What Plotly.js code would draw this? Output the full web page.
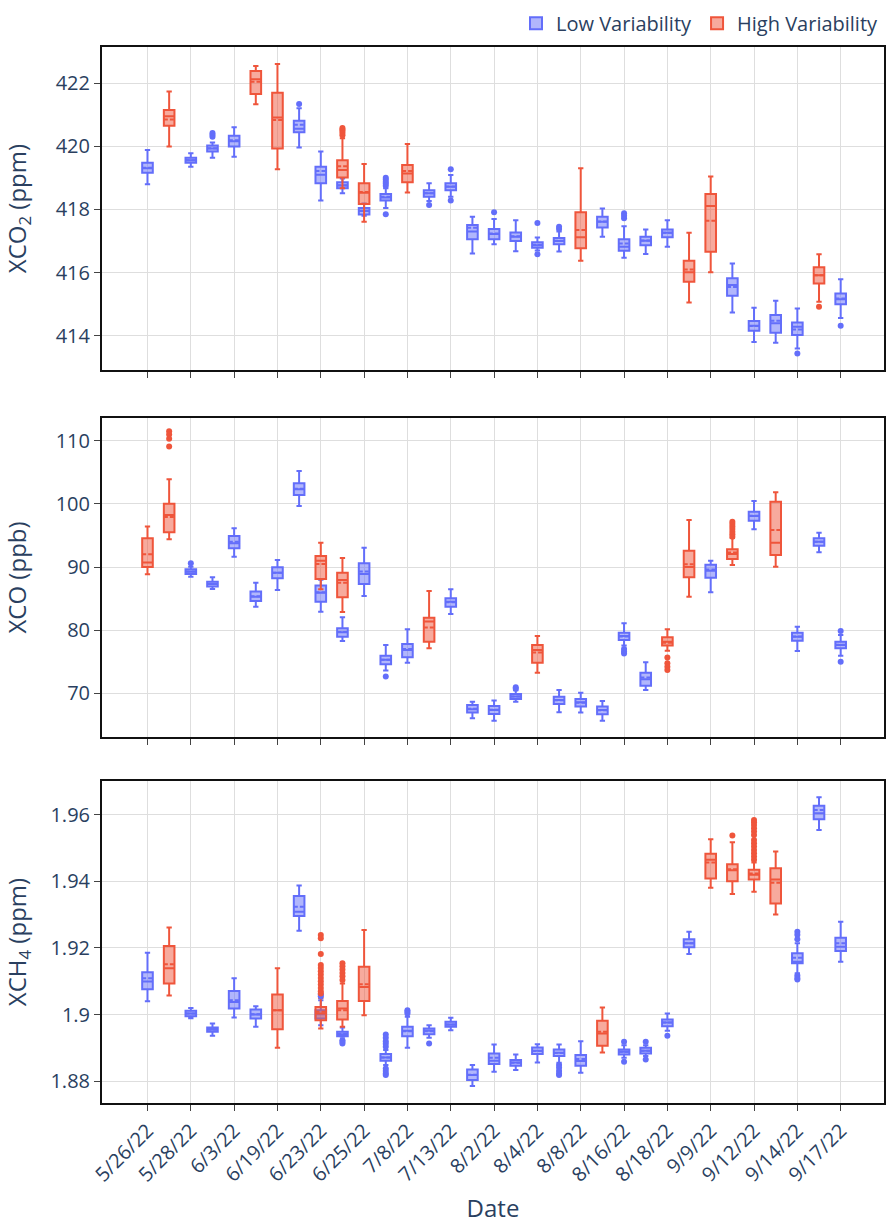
<!DOCTYPE html>
<html><head><meta charset="utf-8">
<script src="https://cdn.plot.ly/plotly-3.0.1.min.js"></script>
<style>html,body{margin:0;padding:0;background:#fff}#chart{width:886px;height:1224px}</style>
</head><body><div id="chart"></div>
<script>
const DATES = ['5/26/22','5/27/22','5/28/22','6/1/22','6/3/22','6/18/22','6/19/22','6/22/22','6/23/22','6/24/22','6/25/22','7/7/22','7/8/22','7/12/22','7/13/22','8/1/22','8/2/22','8/3/22','8/4/22','8/5/22','8/8/22','8/15/22','8/16/22','8/17/22','8/18/22','9/8/22','9/9/22','9/11/22','9/12/22','9/13/22','9/14/22','9/16/22','9/17/22'];
const TICK_LABELS = ['5/26/22','5/28/22','6/3/22','6/19/22','6/23/22','6/25/22','7/8/22','7/13/22','8/2/22','8/4/22','8/8/22','8/16/22','8/18/22','9/9/22','9/12/22','9/14/22','9/17/22'];

// rows: [date, lowerfence, q1, median, q3, upperfence, mean]
const XCO2_LOW = [
 ['5/26/22',418.80,419.16,419.30,419.48,419.88,419.32],
 ['5/28/22',419.35,419.48,419.56,419.64,419.78,419.56],
 ['6/1/22',419.64,419.83,419.93,420.02,420.12,419.94],
 ['6/3/22',419.67,419.99,420.16,420.33,420.60,420.19],
 ['6/22/22',419.96,420.44,420.55,420.81,421.20,420.68],
 ['6/23/22',418.28,418.83,419.10,419.35,419.83,419.22],
 ['6/24/22',418.51,418.67,418.76,418.86,418.98,418.77],
 ['6/25/22',417.80,417.84,417.95,418.05,418.19,417.96],
 ['7/7/22',418.05,418.28,418.38,418.49,418.67,418.40],
 ['7/12/22',418.27,418.40,418.51,418.61,418.83,418.51],
 ['7/13/22',418.40,418.61,418.72,418.83,419.09,418.73],
 ['8/1/22',416.61,417.06,417.30,417.51,417.77,417.42],
 ['8/2/22',416.90,417.06,417.22,417.38,417.70,417.24],
 ['8/3/22',416.68,417.00,417.14,417.27,417.66,417.15],
 ['8/4/22',416.70,416.79,416.87,416.96,417.11,416.88],
 ['8/5/22',416.67,416.90,417.00,417.10,417.30,417.01],
 ['8/15/22',417.14,417.43,417.61,417.77,418.03,417.62],
 ['8/16/22',416.47,416.69,416.82,417.06,417.47,416.92],
 ['8/17/22',416.59,416.87,417.01,417.14,417.37,417.02],
 ['8/18/22',416.82,417.12,417.26,417.37,417.66,417.26],
 ['9/11/22',414.74,415.27,415.61,415.82,416.29,415.55],
 ['9/12/22',413.81,414.16,414.32,414.47,414.89,414.31],
 ['9/13/22',413.78,414.10,414.40,414.66,415.11,414.48],
 ['9/14/22',413.60,414.03,414.29,414.42,414.87,414.20],
 ['9/17/22',414.57,415.00,415.16,415.34,415.79,415.18]
];
const XCO2_HIGH = [
 ['5/27/22',419.99,420.65,420.95,421.15,421.73,420.85],
 ['6/18/22',421.33,421.65,422.12,422.38,422.54,422.04],
 ['6/19/22',419.27,419.93,420.91,421.69,422.60,420.83],
 ['6/24/22',418.67,419.01,419.25,419.56,420.25,419.37],
 ['6/25/22',417.61,418.17,418.53,418.83,419.44,418.55],
 ['7/8/22',418.54,418.86,419.14,419.41,420.07,419.22],
 ['8/8/22',416.38,416.77,417.12,417.91,419.30,417.35],
 ['9/8/22',415.06,415.71,416.01,416.38,417.26,416.10],
 ['9/9/22',416.01,416.66,418.11,418.49,419.04,417.64],
 ['9/16/22',415.08,415.66,415.92,416.17,416.58,415.92]
];
const XCO2_LOW_OUT = [
 ['6/1/22',420.30],['6/1/22',420.36],['6/1/22',420.42],
 ['6/22/22',421.34],
 ['7/7/22',418.75],['7/7/22',418.82],['7/7/22',418.88],['7/7/22',418.95],['7/7/22',419.00],['7/7/22',417.85],
 ['7/12/22',418.14],
 ['7/13/22',419.27],['7/13/22',418.28],
 ['8/2/22',417.91],
 ['8/4/22',417.57],['8/4/22',416.58],
 ['8/5/22',417.38],['8/5/22',417.45],
 ['8/16/22',417.72],['8/16/22',417.80],['8/16/22',417.88],
 ['9/14/22',413.44],
 ['9/17/22',414.32]
];
const XCO2_HIGH_OUT = [
 ['6/24/22',420.35],['6/24/22',420.42],['6/24/22',420.48],['6/24/22',420.53],['6/24/22',420.58],
 ['9/16/22',414.92]
];

const XCO_LOW = [
 ['5/28/22',88.47,88.90,89.26,89.63,90.05,89.30],
 ['6/1/22',86.52,86.90,87.30,87.68,88.36,87.30],
 ['6/3/22',91.64,92.95,93.75,94.91,96.12,94.00],
 ['6/18/22',83.72,84.62,85.30,86.10,87.52,85.35],
 ['6/19/22',86.36,88.20,89.10,89.95,91.10,89.10],
 ['6/22/22',99.66,101.40,102.30,103.25,105.20,102.40],
 ['6/23/22',82.93,84.51,85.94,87.05,88.00,86.00],
 ['6/24/22',78.30,78.97,79.66,80.30,82.03,79.70],
 ['6/25/22',85.40,87.31,88.90,90.58,93.06,89.30],
 ['7/7/22',73.59,74.60,75.30,75.96,77.65,75.30],
 ['7/8/22',74.85,75.70,76.86,77.81,80.13,77.00],
 ['7/13/22',82.56,83.72,84.50,85.04,86.46,84.40],
 ['8/1/22',66.04,66.94,67.47,68.15,68.68,67.55],
 ['8/2/22',65.67,66.73,67.36,68.00,68.84,67.40],
 ['8/3/22',68.68,69.10,69.50,69.90,70.50,69.50],
 ['8/5/22',67.00,68.31,68.94,69.47,70.53,68.90],
 ['8/8/22',66.94,67.90,68.58,69.10,70.10,68.50],
 ['8/15/22',65.67,66.68,67.36,67.90,68.79,67.30],
 ['8/16/22',77.55,78.44,79.08,79.60,81.08,79.00],
 ['8/17/22',70.53,71.21,72.22,73.27,74.91,72.50],
 ['9/9/22',86.00,88.31,89.42,90.37,91.00,89.60],
 ['9/12/22',95.96,97.33,98.07,98.76,100.45,98.10],
 ['9/14/22',76.70,78.34,78.97,79.60,80.55,79.00],
 ['9/16/22',92.32,93.38,94.00,94.54,95.44,94.00],
 ['9/17/22',75.96,77.12,77.65,78.18,79.23,77.70]
];
const XCO_HIGH = [
 ['5/26/22',88.84,90.00,90.70,94.54,96.40,92.00],
 ['5/27/22',94.38,95.50,98.23,100.00,103.88,97.90],
 ['6/23/22',86.46,88.10,91.00,91.74,93.85,90.47],
 ['6/24/22',82.88,85.20,87.94,89.10,91.42,87.50],
 ['7/12/22',77.12,78.18,81.35,81.98,86.20,80.40],
 ['8/4/22',73.27,74.85,76.86,77.65,79.08,76.44],
 ['8/18/22',76.75,77.55,78.18,78.87,80.13,78.00],
 ['9/8/22',85.30,88.36,90.00,92.59,97.44,90.42],
 ['9/11/22',90.32,91.27,92.06,92.80,94.60,92.30],
 ['9/13/22',90.05,91.90,93.85,100.34,101.82,95.86]
];
const XCO_LOW_OUT = [
 ['5/28/22',90.58],
 ['7/7/22',72.64],
 ['8/3/22',70.95],['8/3/22',70.70],
 ['8/16/22',77.00],['8/16/22',76.60],['8/16/22',76.30],
 ['9/17/22',79.87],['9/17/22',75.00]
];
const XCO_HIGH_OUT = [
 ['5/27/22',111.50],['5/27/22',111.00],['5/27/22',110.30],['5/27/22',109.10],
 ['8/18/22',75.65],['8/18/22',74.75],['8/18/22',74.22],['8/18/22',73.69],
 ['9/11/22',94.80],['9/11/22',95.20],['9/11/22',95.60],['9/11/22',96.00],['9/11/22',96.40],['9/11/22',96.80],['9/11/22',97.18]
];

const XCH4_LOW = [
 ['5/26/22',1.9040,1.9076,1.9099,1.9127,1.9186,1.9109],
 ['5/28/22',1.8989,1.8995,1.9003,1.9011,1.9020,1.9003],
 ['6/1/22',1.8936,1.8948,1.8955,1.8961,1.8973,1.8955],
 ['6/3/22',1.8991,1.9018,1.9038,1.9071,1.9109,1.9043],
 ['6/18/22',1.8963,1.8988,1.9000,1.9015,1.9025,1.9001],
 ['6/22/22',1.9252,1.9296,1.9309,1.9356,1.9388,1.9324],
 ['6/23/22',1.8968,1.8988,1.9001,1.9013,1.9043,1.9003],
 ['6/24/22',1.8933,1.8935,1.8941,1.8948,1.8961,1.8942],
 ['7/7/22',1.8848,1.8861,1.8871,1.8881,1.8893,1.8871],
 ['7/8/22',1.8900,1.8935,1.8951,1.8963,1.8993,1.8950],
 ['7/12/22',1.8930,1.8941,1.8951,1.8958,1.8968,1.8950],
 ['7/13/22',1.8953,1.8963,1.8970,1.8978,1.8990,1.8970],
 ['8/1/22',1.8785,1.8803,1.8818,1.8835,1.8848,1.8819],
 ['8/2/22',1.8828,1.8851,1.8861,1.8883,1.8910,1.8870],
 ['8/3/22',1.8833,1.8846,1.8856,1.8863,1.8880,1.8855],
 ['8/4/22',1.8856,1.8881,1.8891,1.8901,1.8911,1.8890],
 ['8/5/22',1.8855,1.8875,1.8885,1.8895,1.8910,1.8884],
 ['8/8/22',1.8825,1.8846,1.8860,1.8878,1.8920,1.8866],
 ['8/16/22',1.8870,1.8880,1.8888,1.8895,1.8908,1.8888],
 ['8/17/22',1.8875,1.8883,1.8891,1.8900,1.8908,1.8891],
 ['8/18/22',1.8951,1.8965,1.8976,1.8985,1.9003,1.8976],
 ['9/8/22',1.9182,1.9202,1.9214,1.9226,1.9249,1.9214],
 ['9/14/22',1.9124,1.9154,1.9159,1.9184,1.9214,1.9171],
 ['9/16/22',1.9555,1.9587,1.9605,1.9628,1.9653,1.9615],
 ['9/17/22',1.9159,1.9191,1.9204,1.9231,1.9279,1.9214]
];
const XCH4_HIGH = [
 ['5/27/22',1.9057,1.9093,1.9139,1.9206,1.9262,1.9151],
 ['6/19/22',1.8900,1.8956,1.9013,1.9060,1.9139,1.9013],
 ['6/23/22',1.8958,1.8983,1.9003,1.9023,1.9050,1.9008],
 ['6/24/22',1.8963,1.8985,1.9018,1.9041,1.9093,1.9013],
 ['6/25/22',1.8998,1.9041,1.9083,1.9144,1.9254,1.9091],
 ['8/15/22',1.8886,1.8906,1.8943,1.8981,1.9021,1.8948],
 ['9/9/22',1.9381,1.9409,1.9465,1.9483,1.9527,1.9457],
 ['9/11/22',1.9362,1.9401,1.9434,1.9452,1.9518,1.9437],
 ['9/12/22',1.9369,1.9406,1.9420,1.9435,1.9457,1.9424],
 ['9/13/22',1.9301,1.9334,1.9406,1.9440,1.9490,1.9396]
];
const XCH4_LOW_OUT = [
 ['6/23/22',1.9055],['6/23/22',1.9060],
 ['6/24/22',1.8923],['6/24/22',1.8918],['6/24/22',1.8913],
 ['7/7/22',1.8940],['7/7/22',1.8930],['7/7/22',1.8920],['7/7/22',1.8912],['7/7/22',1.8903],
 ['7/7/22',1.8838],['7/7/22',1.8830],['7/7/22',1.8823],['7/7/22',1.8818],
 ['7/8/22',1.9013],['7/8/22',1.9008],['7/8/22',1.9003],
 ['7/12/22',1.8913],
 ['8/5/22',1.8848],['8/5/22',1.8840],['8/5/22',1.8830],['8/5/22',1.8822],['8/5/22',1.8818],
 ['8/16/22',1.8918],['8/16/22',1.8858],
 ['8/17/22',1.8918],['8/17/22',1.8865],
 ['8/18/22',1.8936],
 ['9/14/22',1.9249],['9/14/22',1.9240],['9/14/22',1.9226],['9/14/22',1.9117],['9/14/22',1.9110],['9/14/22',1.9105]
];
const XCH4_HIGH_OUT = [
 ['6/23/22',1.9239],['6/23/22',1.9229],['6/23/22',1.9182],['6/23/22',1.9149],['6/23/22',1.9140],['6/23/22',1.9130],
 ['6/23/22',1.9120],['6/23/22',1.9110],['6/23/22',1.9100],['6/23/22',1.9090],['6/23/22',1.9080],['6/23/22',1.9070],['6/23/22',1.9063],
 ['6/24/22',1.9154],['6/24/22',1.9145],['6/24/22',1.9135],['6/24/22',1.9125],['6/24/22',1.9115],['6/24/22',1.9104],
 ['9/11/22',1.9538],
 ['9/12/22',1.9585],['9/12/22',1.9578],['9/12/22',1.9570],['9/12/22',1.9560],['9/12/22',1.9550],['9/12/22',1.9540],
 ['9/12/22',1.9525],['9/12/22',1.9515],['9/12/22',1.9505],['9/12/22',1.9495],['9/12/22',1.9485],['9/12/22',1.9475],['9/12/22',1.9465]
];

const LOW_NAME = 'Low Variability', HIGH_NAME = 'High Variability';
const LOW_COLOR = '#636efa', HIGH_COLOR = '#EF553B';

function boxTrace(rows, name, color, xa, ya, showLegend) {
  return {
    type: 'box', name: name, legendgroup: name, showlegend: showLegend,
    orientation: 'v',
    x: rows.map(r => r[0]),
    lowerfence: rows.map(r => r[1]),
    q1: rows.map(r => r[2]),
    median: rows.map(r => r[3]),
    q3: rows.map(r => r[4]),
    upperfence: rows.map(r => r[5]),
    mean: rows.map(r => r[6]),
    boxmean: true, boxpoints: false,
    line: {color: color, width: 2},
    marker: {color: color},
    xaxis: xa, yaxis: ya, hoverinfo: 'skip'
  };
}
function outTrace(pts, name, color, xa, ya) {
  return {
    type: 'scatter', mode: 'markers', name: name, legendgroup: name, showlegend: false,
    x: pts.map(p => p[0]), y: pts.map(p => p[1]),
    marker: {color: color, size: 6},
    xaxis: xa, yaxis: ya, hoverinfo: 'skip'
  };
}

const data = [
  boxTrace(XCO2_LOW, LOW_NAME, LOW_COLOR, 'x', 'y', true),
  boxTrace(XCO2_HIGH, HIGH_NAME, HIGH_COLOR, 'x', 'y', true),
  outTrace(XCO2_LOW_OUT, LOW_NAME, LOW_COLOR, 'x', 'y'),
  outTrace(XCO2_HIGH_OUT, HIGH_NAME, HIGH_COLOR, 'x', 'y'),
  boxTrace(XCO_LOW, LOW_NAME, LOW_COLOR, 'x2', 'y2', false),
  boxTrace(XCO_HIGH, HIGH_NAME, HIGH_COLOR, 'x2', 'y2', false),
  outTrace(XCO_LOW_OUT, LOW_NAME, LOW_COLOR, 'x2', 'y2'),
  outTrace(XCO_HIGH_OUT, HIGH_NAME, HIGH_COLOR, 'x2', 'y2'),
  boxTrace(XCH4_LOW, LOW_NAME, LOW_COLOR, 'x3', 'y3', false),
  boxTrace(XCH4_HIGH, HIGH_NAME, HIGH_COLOR, 'x3', 'y3', false),
  outTrace(XCH4_LOW_OUT, LOW_NAME, LOW_COLOR, 'x3', 'y3'),
  outTrace(XCH4_HIGH_OUT, HIGH_NAME, HIGH_COLOR, 'x3', 'y3')
];

const TXT = '#2a3f5f';
function xAxis(anchor, showLabels) {
  const a = {
    type: 'category', categoryorder: 'array', categoryarray: DATES,
    range: [-2.1, 34.0], anchor: anchor,
    tickmode: 'array', tickvals: TICK_LABELS, ticktext: TICK_LABELS,
    showticklabels: showLabels, tickangle: -45,
    ticks: 'outside', ticklen: 6, tickwidth: 1, tickcolor: '#444',
    showline: true, linecolor: '#111', linewidth: 2, mirror: true,
    showgrid: true, gridcolor: '#dedede', gridwidth: 1, zeroline: false,
    tickfont: {size: 20, color: TXT}
  };
  if (showLabels) a.title = {text: 'Date', font: {size: 24, color: TXT}, standoff: 24};
  return a;
}
function yAxis(anchor, domain, range, dtick, title) {
  return {
    anchor: anchor, domain: domain, range: range, dtick: dtick, type: 'linear',
    ticks: 'outside', ticklen: 6, tickwidth: 1, tickcolor: '#444',
    showline: true, linecolor: '#111', linewidth: 2, mirror: true,
    showgrid: true, gridcolor: '#dedede', gridwidth: 1, zeroline: false,
    tickfont: {size: 20, color: TXT},
    title: {text: title, font: {size: 24, color: TXT}, standoff: 22}
  };
}

const layout = {
  width: 886, height: 1224,
  margin: {l: 102, r: 2, t: 47, b: 121},
  paper_bgcolor: '#fff', plot_bgcolor: '#fff',
  font: {family: '"Open Sans", verdana, arial, sans-serif', color: TXT},
  boxmode: 'overlay',
  showlegend: true,
  legend: {orientation: 'h', x: 1, xanchor: 'right', y: 1.004, yanchor: 'bottom',
           font: {size: 20, color: TXT}, bgcolor: 'rgba(0,0,0,0)'},
  xaxis: xAxis('y', false),
  xaxis2: xAxis('y2', false),
  xaxis3: xAxis('y3', true),
  yaxis: yAxis('x', [0.6941, 1], [412.92, 423.14], 2, 'XCO<sub>2</sub> (ppm)'),
  yaxis2: yAxis('x2', [0.3466, 0.6487], [63.08, 113.6], 10, 'XCO (ppb)'),
  yaxis3: yAxis('x3', [0, 0.3049], [1.8734, 1.9702], 0.02, 'XCH<sub>4</sub> (ppm)')
};

Plotly.newPlot('chart', data, layout, {displayModeBar: false, staticPlot: true});
</script>
</body></html>
